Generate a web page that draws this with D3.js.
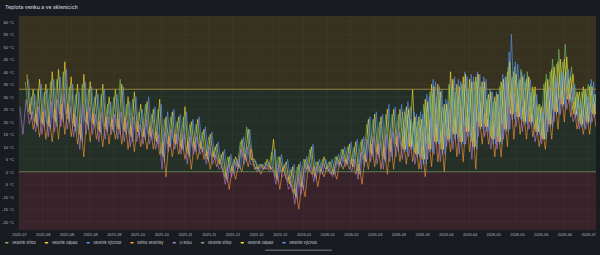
<!DOCTYPE html>
<html>
<head>
<meta charset="utf-8">
<script src="https://cdn.jsdelivr.net/npm/d3@7"></script>
<style>
  html, body { margin: 0; padding: 0; background: #181b1f; }
  svg { display: block; }
</style>
</head>
<body>
<svg></svg>
<script>
// values are 4-day blocks: one afternoon high and one night low per block
var startDate = new Date(2025, 6, 1);
var endDate = new Date(2026, 6, 1);
var blockDays = 4;

var xTickLabels = ["2025-07", "2025-08", "2025-08", "2025-09", "2025-09", "2025-10", "2025-10", "2025-11", "2025-11",
    "2025-12", "2025-12", "2025-12", "2026-01", "2026-01", "2026-02", "2026-03", "2026-03", "2026-03", "2026-04",
    "2026-04", "2026-05", "2026-05", "2026-06", "2026-06", "2026-07"];
var xTickStepDays = 15;
var yTickValues = [-20, -15, -10, -5, 0, 5, 10, 15, 20, 25, 30, 35, 40, 45, 50, 55, 60];
var thresholds = [0, 33];

var stredHi = [36, 30, 33, 32, 36, 37, 40, 34, 31, 35, 33, 30, 31, 27, 30, 37, 27, 29, 24, 27,
    23, 25, 21, 22, 20, 22, 19, 19, 16, 14, 10, 7, 6, 5, 12, 18, 4, 3, 4, 8,
    6, 3, 1, 2, 5, 9, 4, 5, 4, 6, 9, 10, 10, 12, 19, 21, 20, 23, 23, 23,
    24, 21, 20, 27, 32, 30, 26, 35, 32, 35, 33, 36, 34, 29, 28, 34, 38, 38, 36, 36,
    32, 26, 35, 40, 43, 44, 37, 30, 32, 35, 31];
var stredLo = [24, 20, 20, 19, 21, 23, 23, 19, 15, 20, 20, 17, 18, 18, 18, 17, 15, 17, 14, 15,
    13, 7, 11, 12, 10, 8, 10, 10, 6, 6, 4, -2, 0, 2, 6, 6, 1, 2, 2, -2,
    0, -4, -9, -6, 1, -1, 0, 1, -1, 3, 4, 3, 0, 5, 8, 8, 6, 9, 11, 10,
    11, 8, 6, 11, 14, 11, 14, 16, 14, 18, 12, 20, 19, 14, 14, 19, 26, 24, 21, 22,
    17, 14, 21, 25, 29, 31, 25, 20, 21, 24, 25];
var zapadHi = [39, 33, 37, 35, 40, 41, 44, 38, 35, 39, 36, 33, 35, 30, 33, 35, 30, 32, 27, 28,
    25, 29, 22, 24, 22, 26, 20, 21, 17, 15, 11, 8, 6, 6, 13, 17, 5, 3, 5, 13,
    6, 4, 2, 3, 5, 10, 4, 6, 4, 6, 9, 11, 12, 13, 21, 23, 22, 25, 25, 25,
    26, 33, 22, 29, 35, 35, 27, 40, 35, 38, 37, 38, 36, 31, 30, 36, 40, 40, 37, 37,
    34, 27, 36, 41, 44, 45, 38, 32, 34, 34, 31];
var zapadLo = [23, 19, 19, 18, 20, 21, 21, 18, 13, 19, 19, 16, 17, 17, 17, 16, 14, 16, 14, 14,
    12, 6, 10, 11, 9, 7, 9, 9, 5, 6, 3, -3, 0, 2, 5, 5, 1, 1, 1, -3,
    0, -5, -10, -6, 1, -2, 0, 1, -1, 3, 3, 2, -1, 4, 7, 7, 5, 8, 10, 9,
    10, 7, 5, 9, 12, 9, 13, 15, 12, 16, 10, 18, 18, 13, 12, 17, 23, 22, 20, 20,
    16, 13, 19, 24, 27, 29, 23, 19, 20, 23, 24];
var vychodHi = [37, 31, 35, 33, 37, 38, 41, 35, 32, 36, 34, 31, 33, 28, 31, 34, 28, 30, 25, 30,
    26, 27, 24, 25, 23, 24, 21, 22, 18, 16, 12, 9, 7, 5, 14, 17, 4, 3, 4, 9,
    7, 5, 3, 4, 6, 11, 5, 5, 5, 7, 10, 12, 13, 14, 22, 24, 23, 27, 26, 27,
    28, 24, 24, 31, 37, 34, 29, 37, 37, 40, 39, 40, 38, 33, 32, 39, 48, 44, 40, 38,
    31, 25, 33, 37, 39, 40, 34, 29, 31, 37, 33];
var vychodLo = [21, 18, 18, 17, 18, 20, 20, 16, 12, 17, 18, 15, 16, 16, 15, 15, 12, 14, 13, 13,
    11, 4, 10, 11, 9, 6, 8, 8, 4, 5, 2, -4, -1, 1, 4, 4, 0, 1, 1, -4,
    -1, -6, -11, -7, 0, -3, -1, 0, -1, 2, 3, 2, -1, 4, 6, 6, 4, 6, 8, 8,
    9, 6, 3, 8, 11, 7, 12, 13, 11, 14, 9, 17, 16, 11, 11, 16, 21, 21, 19, 19,
    15, 13, 18, 23, 26, 28, 22, 18, 19, 22, 23];
var mimoHi = [27, 23, 24, 22, 25, 27, 27, 23, 19, 24, 23, 20, 22, 21, 21, 22, 18, 20, 17, 18,
    16, 12, 14, 15, 13, 12, 12, 12, 8, 8, 5, 0, 2, 3, 7, 9, 2, 2, 2, 0,
    2, -2, -7, -4, 2, 2, 1, 2, 1, 4, 5, 5, 3, 7, 11, 11, 10, 13, 14, 14,
    15, 11, 10, 15, 19, 16, 17, 21, 19, 22, 18, 24, 23, 18, 18, 23, 32, 28, 26, 26,
    21, 17, 25, 30, 33, 35, 28, 23, 24, 27, 26];
var mimoLo = [17, 14, 13, 12, 13, 15, 14, 11, 6, 12, 13, 10, 11, 13, 11, 9, 8, 10, 9, 9,
    7, -2, 6, 7, 5, 1, 5, 5, 1, 2, 0, -7, -3, 0, 2, 1, -1, 1, 0, -7,
    -3, -8, -15, -10, -1, -6, -2, -1, -3, 1, 1, -1, -5, 1, 2, 1, -1, 1, 4, 3,
    4, 1, -2, 2, 4, 0, 8, 6, 4, 8, 1, 11, 11, 6, 6, 10, 13, 15, 13, 14,
    10, 9, 13, 17, 20, 22, 17, 15, 15, 18, 21];
var krbHi = [26, 29, 24, 26, 25, 28, 29, 31, 26, 22, 27, 26, 23, 24, 22, 23, 24, 20, 22, 19, 21,
    17, 15, 16, 17, 15, 15, 14, 14, 10, 10, 7, 2, 3, 4, 9, 10, 3, 2, 3, 2,
    3, -1, -5, -2, 3, 3, 2, 3, 1, 4, 6, 6, 5, 8, 13, 14, 12, 15, 16, 16,
    17, 14, 12, 18, 22, 19, 20, 25, 22, 26, 22, 27, 26, 21, 20, 26, 36, 31, 29, 28,
    23, 19, 28, 33, 36, 38, 31, 24, 25, 28, 27];
var krbLo = [15, 19, 16, 15, 14, 16, 18, 17, 14, 9, 15, 15, 12, 13, 15, 13, 12, 10, 12, 11, 11,
    9, 1, 8, 9, 7, 3, 7, 7, 3, 3, 1, -5, -2, 1, 3, 3, 0, 1, 0, -5,
    -2, -7, -13, -9, 0, -4, -1, 0, -2, 2, 2, 0, -3, 2, 4, 3, 1, 4, 6, 5,
    6, 3, 1, 5, 7, 4, 10, 9, 7, 11, 5, 14, 14, 9, 9, 13, 17, 18, 16, 17,
    12, 11, 16, 20, 23, 25, 20, 17, 17, 20, 22];
var stred2Hi = [22, 23, 20, 19, 26, 31, 29, 25, 34, 31, 35, 33, 36, 34, 29, 28, 35, 42, 42, 41,
    40, 33, 27, 39, 45, 49, 51, 42, 31, 33, 35, 32];
var stred2Lo = [10, 11, 8, 6, 11, 14, 11, 14, 16, 14, 18, 12, 20, 19, 14, 14, 19, 26, 24, 21,
    22, 17, 14, 21, 25, 29, 31, 25, 20, 21, 24, 25];
var zapad2Hi = [24, 25, 22, 21, 28, 34, 32, 27, 37, 34, 39, 36, 39, 36, 32, 31, 37, 44, 39, 38,
    38, 34, 26, 37, 42, 45, 46, 39, 32, 33, 34, 31];
var zapad2Lo = [9, 10, 7, 5, 9, 12, 9, 13, 15, 12, 16, 10, 18, 18, 13, 12, 17, 23, 22, 20,
    20, 16, 13, 19, 24, 27, 29, 23, 19, 20, 23, 24];
var vychod2Hi = [25, 26, 23, 23, 30, 36, 33, 28, 38, 36, 38, 38, 39, 37, 32, 31, 38, 55, 43, 39,
    37, 31, 24, 34, 38, 40, 41, 35, 28, 30, 36, 32];
var vychod2Lo = [8, 9, 6, 3, 8, 11, 7, 12, 13, 11, 14, 9, 17, 16, 11, 11, 16, 21, 21, 19,
    19, 15, 13, 18, 23, 26, 28, 22, 18, 19, 22, 23];

var series = [
    { name: "Skleník střed", color: "#73bf69", first: 1, hi: stredHi, lo: stredLo, shift: 0 },
    { name: "Skleník západ", color: "#fade2a", first: 1, hi: zapadHi, lo: zapadLo, shift: 1.0 },
    { name: "Skleník východ", color: "#5794f2", first: 1, hi: vychodHi, lo: vychodLo, shift: 2.0 },
    { name: "Mimo skleníky", color: "#ff9830", first: 1, hi: mimoHi, lo: mimoLo, shift: 3.0 },
    { name: "U krbu", color: "#b877d9", first: 0, hi: krbHi, lo: krbLo, shift: 0.5 },
    { name: "Skleník střed", color: "#73bf69", first: 60, hi: stred2Hi, lo: stred2Lo, shift: 1.5 },
    { name: "Skleník západ", color: "#fade2a", first: 60, hi: zapad2Hi, lo: zapad2Lo, shift: 2.5 },
    { name: "Skleník východ", color: "#5794f2", first: 60, hi: vychod2Hi, lo: vychod2Lo, shift: 3.5 }
];

var W = 600, H = 255;
var plot = { left: 19, right: 596, top: 16, bottom: 230 };
var DAY = 86400000;

var svg = d3.select("svg").attr("width", W).attr("height", H)
    .style("font-family", "Inter, 'Noto Sans', sans-serif");

svg.append("rect").attr("width", W).attr("height", H).attr("fill", "#181b1f");

svg.append("text")
    .attr("x", 5).attr("y", 8.5)
    .attr("fill", "#ccccdc")
    .attr("font-size", 5.2)
    .attr("font-weight", 500)
    .text("Teplota venku a ve sklenících");

var x = d3.scaleTime().domain([startDate, endDate]).range([plot.left, plot.right]);
var y = d3.scaleLinear().domain([-23.3, 62.3]).range([plot.bottom, plot.top]);

// threshold regions
var bands = [
    { from: y.domain()[0], to: thresholds[0], fill: "#38232a" },
    { from: thresholds[0], to: thresholds[1], fill: "#243027" },
    { from: thresholds[1], to: y.domain()[1], fill: "#37311f" }
];
svg.append("g").selectAll("rect").data(bands).join("rect")
    .attr("x", plot.left).attr("width", plot.right - plot.left)
    .attr("y", d => y(d.to)).attr("height", d => y(d.from) - y(d.to))
    .attr("fill", d => d.fill);

var xTicks = xTickLabels.map((l, i) => new Date(startDate.getTime() + i * xTickStepDays * DAY));

var grid = svg.append("g").attr("stroke", "rgba(204,204,220,0.07)").attr("stroke-width", 0.6);
grid.selectAll("line.v").data(xTicks).join("line").attr("class", "v")
    .attr("x1", d => x(d)).attr("x2", d => x(d))
    .attr("y1", plot.top).attr("y2", plot.bottom);
grid.selectAll("line.h").data(yTickValues).join("line").attr("class", "h")
    .attr("x1", plot.left).attr("x2", plot.right)
    .attr("y1", d => y(d)).attr("y2", d => y(d));

svg.append("clipPath").attr("id", "clip").append("rect")
    .attr("x", plot.left).attr("y", plot.top)
    .attr("width", plot.right - plot.left).attr("height", plot.bottom - plot.top);

function points(s) {
    var pts = [];
    s.hi.forEach(function (v, k) {
        var b = (s.first + k) * blockDays;
        pts.push([new Date(startDate.getTime() + (b + s.shift) * DAY), v]);
        pts.push([new Date(startDate.getTime() + (b + s.shift + 2) * DAY), s.lo[k]]);
    });
    return pts;
}

var line = d3.line().x(d => x(d[0])).y(d => y(d[1]));

svg.append("g").attr("clip-path", "url(#clip)")
    .selectAll("path").data(series).join("path")
    .attr("fill", "none")
    .attr("stroke", d => d.color)
    .attr("stroke-width", 1)
    .attr("stroke-opacity", 0.62)
    .attr("stroke-linejoin", "round")
    .attr("d", d => line(points(d)));

// threshold lines
var tColors = ["#6f8f58", "#a99a45"];
svg.append("g").selectAll("line").data(thresholds).join("line")
    .attr("x1", plot.left).attr("x2", plot.right)
    .attr("y1", d => y(d)).attr("y2", d => y(d))
    .attr("stroke", (d, i) => tColors[i]).attr("stroke-width", 0.8);

// axes
var yAxis = svg.append("g").attr("transform", "translate(" + (plot.left - 2) + ",0)")
    .call(d3.axisLeft(y).tickValues(yTickValues).tickSize(0).tickFormat(d => d + " °C"));
yAxis.select(".domain").remove();
yAxis.selectAll("text").attr("fill", "#b8b8c6").attr("font-size", 4.2).attr("dx", 0);

var xAxis = svg.append("g").attr("transform", "translate(0," + plot.bottom + ")")
    .call(d3.axisBottom(x).tickValues(xTicks).tickSize(0).tickFormat((d, i) => xTickLabels[i]));
xAxis.select(".domain").remove();
xAxis.selectAll("text").attr("fill", "#b8b8c6").attr("font-size", 3.9).attr("dy", 0).attr("y", 6);

// legend
var legend = svg.append("g").attr("transform", "translate(5,242.7)");
var lx = 0;
series.forEach(function (s) {
    var g = legend.append("g").attr("transform", "translate(" + lx + ",0)");
    g.append("rect").attr("x", 0).attr("y", -0.8).attr("width", 3.6).attr("height", 1.6)
        .attr("rx", 0.8).attr("fill", s.color);
    var t = g.append("text").attr("x", 7).attr("y", 1.4)
        .attr("fill", "#ccccdc").attr("font-size", 3.9).text(s.name);
    lx += 7 + t.node().getComputedTextLength() + 9;
});

// horizontal scrollbar of the legend
svg.append("rect").attr("x", 265).attr("y", 249.5).attr("width", 67).attr("height", 1.6)
    .attr("rx", 0.8).attr("fill", "#5a5d63");
</script>
</body>
</html>
